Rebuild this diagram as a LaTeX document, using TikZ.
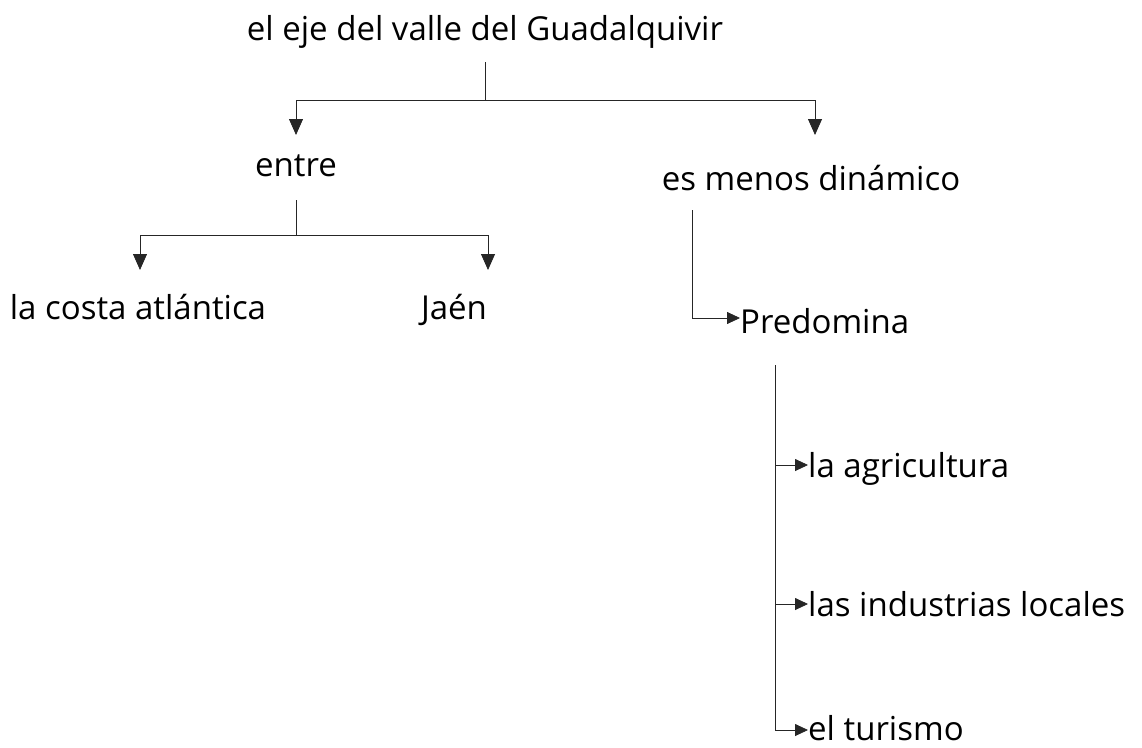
\documentclass[tikz,border=0pt]{standalone}
\usepackage{fontspec}
\setmainfont{Open Sans}
\usetikzlibrary{arrows.meta}
\begin{document}
\begin{tikzpicture}[x=1pt,y=-1pt,
  lbl/.style={inner sep=0pt,font=\fontsize{33}{40}\selectfont},
  conn/.style={line width=0.8pt,draw=black!85},
  darr/.style={conn,-{Triangle[width=14pt,length=16pt]}},
  rarr/.style={conn,-{Triangle[width=12pt,length=13pt]}}]
\useasboundingbox (0,0) rectangle (1142,747);
\node[lbl,anchor=base] (eje) at (485,40) {el eje del valle del Guadalquivir};
\node[lbl,anchor=base] (entre) at (296,176) {entre};
\node[lbl,anchor=base] (menos) at (811,190) {es menos dinámico};
\node[lbl,anchor=base] (costa) at (138,319) {la costa atlántica};
\node[lbl,anchor=base] (jaen) at (454,319) {Jaén};
\node[lbl,anchor=base west] (pred) at (740,333) {Predomina};
\node[lbl,anchor=base west] (agri) at (808,477) {la agricultura};
\node[lbl,anchor=base west] (indu) at (808,616) {las industrias locales};
\node[lbl,anchor=base west] (turi) at (808,740) {el turismo};
% top branch
\coordinate (a0) at (485,62);
\coordinate (a1) at (485,100);
\coordinate (aL) at (296,100);
\coordinate (aR) at (815,100);
\coordinate (aLe) at (296,135);
\coordinate (aRe) at (815,135);
\draw[conn] (a0) -- (a1);
\draw[darr] (a1) -- (aL) -- (aLe);
\draw[darr] (a1) -- (aR) -- (aRe);
% entre branch
\coordinate (b0) at (296,200);
\coordinate (b1) at (296,235);
\coordinate (bL) at (140,235);
\coordinate (bR) at (488,235);
\coordinate (bLe) at (140,270);
\coordinate (bRe) at (488,270);
\draw[conn] (b0) -- (b1);
\draw[darr] (b1) -- (bL) -- (bLe);
\draw[darr] (b1) -- (bR) -- (bRe);
% menos branch
\coordinate (c0) at (692,210);
\coordinate (c1) at (692,318);
\draw[rarr] (c0) -- (c1) -- (pred.west |- c1);
% predomina branch
\coordinate (d0) at (775,365);
\coordinate (d1) at (775,465);
\coordinate (d2) at (775,604);
\coordinate (d3) at (775,730);
\draw[conn] (d0) -- (d3);
\draw[rarr] (d1) -- (agri.west |- d1);
\draw[rarr] (d2) -- (indu.west |- d2);
\draw[rarr] (d3) -- (turi.west |- d3);
\end{tikzpicture}
\end{document}
